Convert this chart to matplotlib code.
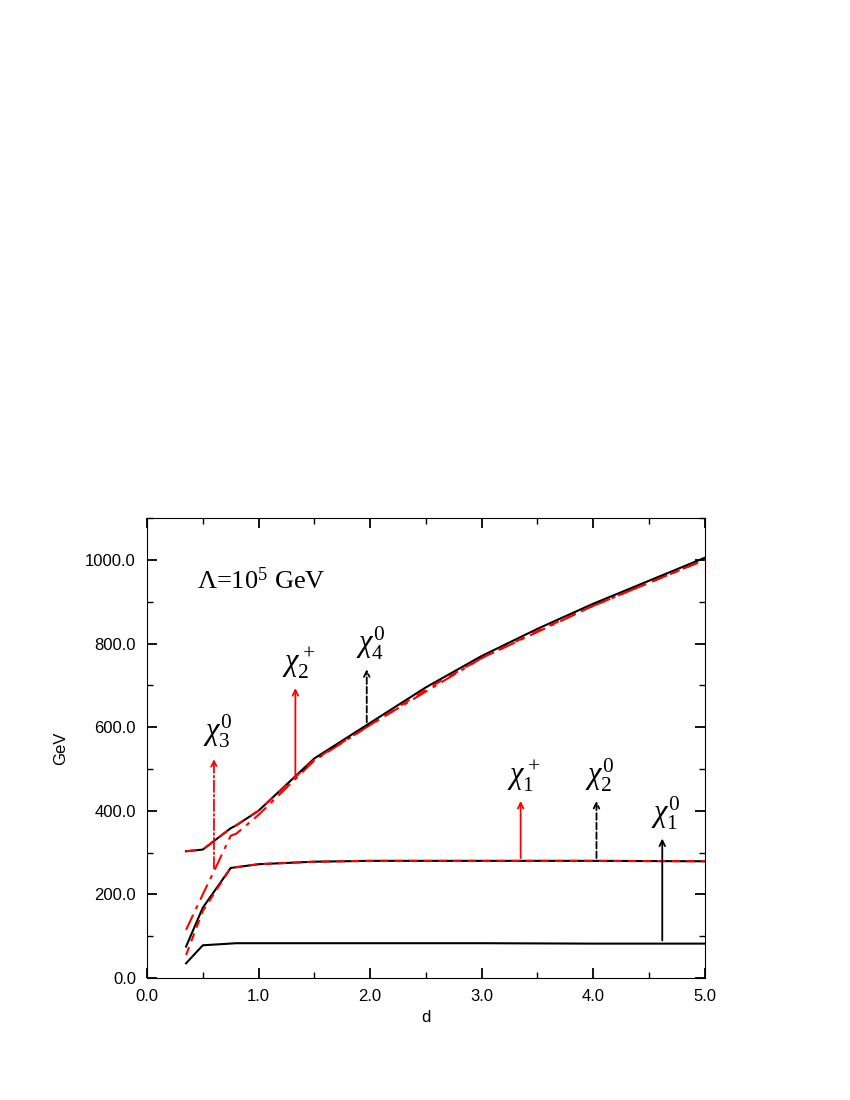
import matplotlib
matplotlib.use("Agg")
import matplotlib.pyplot as plt
from matplotlib.ticker import MultipleLocator, FormatStrFormatter

plt.rcParams['font.family'] = ['Liberation Sans', 'DejaVu Sans']
plt.rcParams['mathtext.fontset'] = 'custom'
plt.rcParams['mathtext.rm'] = 'Liberation Serif'
plt.rcParams['mathtext.it'] = 'Liberation Serif:italic'

d_low = [0.35, 0.5, 0.8, 1.0, 2.0, 3.0, 4.0, 5.0]
chi1_0 = [35, 78, 83, 83, 83, 83, 82, 82]
d_mid = [0.35, 0.5, 0.75, 1.0, 1.5, 2.0, 3.0, 4.0, 5.0]
chi1_p = [75, 168, 263, 272, 278, 280, 280, 280, 279]
chi2_0 = [55, 160, 263, 272, 278, 280, 280, 280, 279]
d_up = [0.35, 0.5, 0.75, 0.8, 1.0, 1.5, 2.0, 2.5, 3.0, 3.5, 4.0, 4.5, 5.0]
chi4_0 = [303, 307, 358, 365, 400, 525, 610, 695, 770, 835, 895, 950, 1005]
chi2_p = [303, 307, 358, 365, 400, 522, 605, 690, 765, 830, 890, 945, 1000]
d_c3 = [0.35, 0.5, 0.6, 0.75, 0.8, 1.0, 1.5, 2.0, 3.0, 4.0, 5.0]
chi3_0 = [115, 200, 255, 340, 345, 390, 520, 605, 765, 890, 1000]

# arrows: (x, y_start, y_end, color, style, label, label_y)
arrows = [
    (0.60, 255, 530, "red", "-.", r"$\chi_3^0$", 545),
    (1.33, 475, 700, "red", "-", r"$\chi_2^+$", 710),
    (1.97, 605, 745, "black", "--", r"$\chi_4^0$", 755),
    (3.35, 280, 430, "red", "-", r"$\chi_1^+$", 440),
    (4.03, 280, 430, "black", "--", r"$\chi_2^0$", 440),
    (4.62, 83, 340, "black", "-", r"$\chi_1^0$", 350),
]

fig = plt.figure(figsize=(8.5, 11), dpi=100)
ax = fig.add_axes([0.173, 0.111, 0.656, 0.418])
ax.plot(d_low, chi1_0, color="black", lw=1.5)
ax.plot(d_mid, chi1_p, color="black", lw=1.5)
ax.plot(d_mid, chi2_0, color="red", lw=1.5, ls=(0, (4, 3)))
ax.plot(d_c3, chi3_0, color="red", lw=1.5, ls=(0, (8, 3, 2, 3)))
ax.plot(d_up, chi4_0, color="black", lw=1.5)
ax.plot(d_up, chi2_p, color="red", lw=1.5, ls=(0, (5, 4)))

for x, y0, y1, c, ls, lab, ly in arrows:
    ax.annotate("", xy=(x, y1), xytext=(x, y0),
                arrowprops=dict(arrowstyle="->", color=c, lw=1.3, ls=ls))
    ax.text(x + 0.03, ly, lab, ha="center", va="bottom", fontsize=22)

ax.text(0.45, 950, r"$\Lambda$=10$^{5}$ GeV", fontsize=19, family="Liberation Serif", va="center")

ax.set_xlim(0, 5)
ax.set_ylim(0, 1100)
ax.xaxis.set_major_locator(MultipleLocator(1))
ax.xaxis.set_minor_locator(MultipleLocator(0.5))
ax.yaxis.set_major_locator(MultipleLocator(200))
ax.yaxis.set_minor_locator(MultipleLocator(100))
ax.xaxis.set_major_formatter(FormatStrFormatter("%.1f"))
ax.yaxis.set_major_formatter(FormatStrFormatter("%.1f"))
ax.tick_params(which="both", direction="in", top=True, right=True, labelsize=12)
ax.tick_params(which="major", length=7, width=1.3)
ax.tick_params(which="minor", length=4, width=1.0)
ax.tick_params(axis="x", pad=8)
ax.tick_params(axis="y", pad=8)
ax.set_xlabel("d", fontsize=12)
ax.set_ylabel("GeV", fontsize=12, labelpad=12)
fig.savefig("out.png", dpi=100)
